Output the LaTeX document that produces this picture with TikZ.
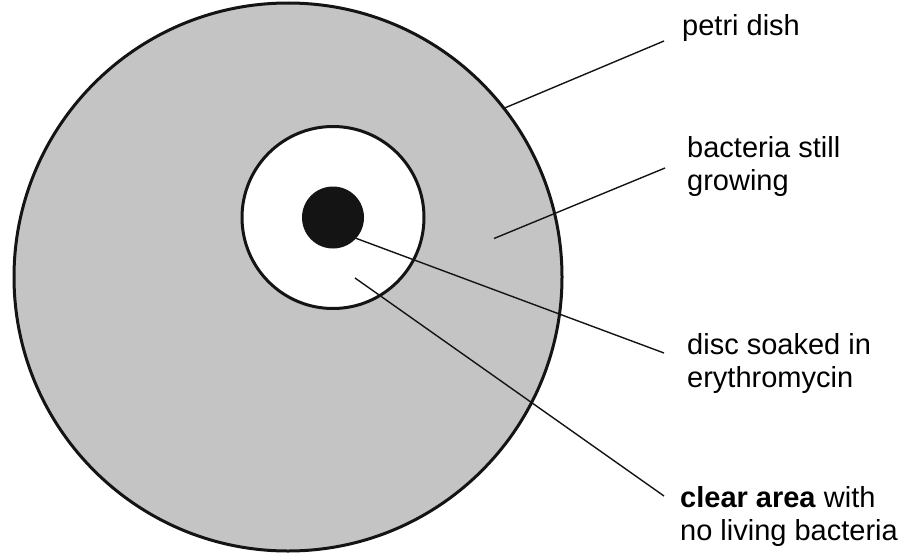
\documentclass[tikz,border=0pt]{standalone}
\usepackage{fontspec}
\setmainfont{Liberation Sans}
\definecolor{agar}{RGB}{196,196,196}
\definecolor{ink}{RGB}{20,20,20}
\begin{document}
\begin{tikzpicture}[x=1pt, y=-1pt,
    ring/.style={circle, draw=ink, line width=3pt, inner sep=0pt, outer sep=0pt},
    leader/.style={draw=ink, line width=1.4pt},
    lbl/.style={anchor=base west, inner sep=0pt, align=left,
      font=\fontsize{29}{33}\selectfont}]
  \useasboundingbox (0,0) rectangle (902,554);

  % dish, clear zone and disc
  \node[ring, fill=agar, minimum size=548pt] (dish) at (288,277) {};
  \node[ring, fill=white, minimum size=182pt] (clear) at (333,217.5) {};
  \node[circle, fill=ink, inner sep=0pt, minimum size=62pt] (disc) at (333,217.5) {};

  % labels (base = last line)
  \node[lbl] (petri) at (682,35) {petri dish};
  \node[lbl] (growing) at (687,190) {bacteria still\\growing};
  \node[lbl] (soaked) at (687,387) {disc soaked in\\erythromycin};
  \node[lbl] (noliving) at (680,540) {\textbf{clear area} with\\no living bacteria};

  % leader ends
  \coordinate (petriEnd) at (664,41);
  \coordinate (growEnd) at (665,168);
  \coordinate (growStart) at (494,238.5);
  \coordinate (soakEnd) at (664,353);
  \coordinate (clearEnd) at (664,496);
  \coordinate (clearStart) at (355,278);

  \draw[leader] (dish.38.5) -- (petriEnd);
  \draw[leader] (growStart) -- (growEnd);
  \draw[leader] (disc.-42) -- (soakEnd);
  \draw[leader] (clearStart) -- (clearEnd);
\end{tikzpicture}
\end{document}
